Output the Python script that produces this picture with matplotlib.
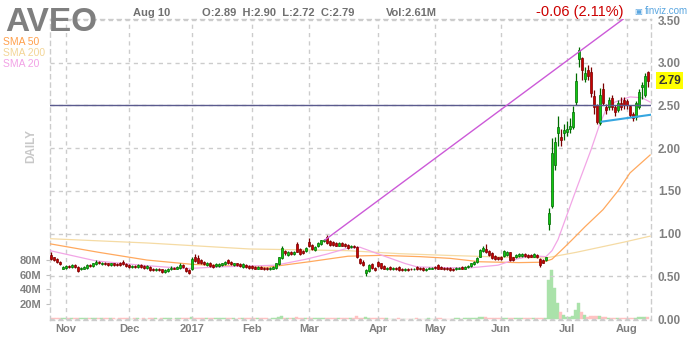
import numpy as np
import pandas as pd
import matplotlib
matplotlib.use('Agg')
import matplotlib.pyplot as plt
import matplotlib.transforms as mtransforms

plt.rcParams['font.family'] = ['Liberation Sans', 'DejaVu Sans']

#### DATA ####
ticker = 'AVEO'
holidays = ['2016-11-24', '2016-12-26', '2017-01-02', '2017-01-16', '2017-02-20',
            '2017-04-14', '2017-05-29', '2017-07-04']
dates = pd.bdate_range('2016-10-25', '2017-08-10', freq='C', holidays=holidays)
month_labels = ['Nov', 'Dec', '2017', 'Feb', 'Mar', 'Apr', 'May', 'Jun', 'Jul', 'Aug']

opens = [0.75, 0.72, 0.70, 0.67, 0.59, 0.60, 0.62, 0.61, 0.63, 0.61,
         0.58, 0.59, 0.60, 0.63, 0.62, 0.64, 0.67, 0.64, 0.66, 0.65,
         0.63, 0.65, 0.64, 0.66, 0.67, 0.64, 0.63, 0.61, 0.62, 0.61,
         0.63, 0.62, 0.60, 0.61, 0.59, 0.57, 0.59, 0.58, 0.55, 0.56,
         0.58, 0.60, 0.59, 0.60, 0.63, 0.60, 0.57, 0.58, 0.72, 0.71,
         0.69, 0.67, 0.63, 0.66, 0.63, 0.62, 0.62, 0.63, 0.64, 0.69,
         0.67, 0.63, 0.65, 0.64, 0.61, 0.63, 0.62, 0.62, 0.61, 0.59,
         0.61, 0.60, 0.60, 0.58, 0.59, 0.60, 0.64, 0.71, 0.80, 0.75,
         0.79, 0.76, 0.88, 0.82, 0.80, 0.80, 0.90, 0.87, 0.81, 0.85,
         0.88, 0.91, 0.96, 0.91, 0.90, 0.89, 0.86, 0.89, 0.88, 0.87,
         0.84, 0.86, 0.84, 0.70, 0.67, 0.54, 0.56, 0.64, 0.60, 0.67,
         0.65, 0.62, 0.58, 0.61, 0.58, 0.60, 0.61, 0.59, 0.57, 0.59,
         0.59, 0.58, 0.61, 0.60, 0.60, 0.57, 0.59, 0.59, 0.61, 0.63,
         0.61, 0.60, 0.60, 0.60, 0.59, 0.58, 0.59, 0.61, 0.59, 0.61,
         0.62, 0.64, 0.67, 0.73, 0.80, 0.82, 0.80, 0.77, 0.74, 0.72,
         0.73, 0.74, 0.75, 0.78, 0.72, 0.72, 0.74, 0.74, 0.76, 0.75,
         0.75, 0.73, 0.75, 0.70, 0.69, 0.69, 1.11, 1.32, 1.80, 2.18,
         2.13, 2.18, 2.19, 2.22, 2.25, 2.54, 3.04, 3.05, 2.81, 2.91,
         2.89, 2.61, 2.50, 2.29, 2.69, 2.48, 2.48, 2.59, 2.48, 2.45,
         2.53, 2.56, 2.55, 2.49, 2.40, 2.36, 2.48, 2.72, 2.62, 2.89]

closes = [0.70, 0.69, 0.67, 0.64, 0.61, 0.62, 0.61, 0.63, 0.61, 0.56,
          0.60, 0.61, 0.63, 0.62, 0.65, 0.67, 0.65, 0.66, 0.64, 0.63,
          0.65, 0.63, 0.63, 0.63, 0.64, 0.62, 0.61, 0.62, 0.61, 0.63,
          0.61, 0.60, 0.62, 0.57, 0.57, 0.59, 0.57, 0.55, 0.57, 0.59,
          0.60, 0.59, 0.61, 0.63, 0.61, 0.56, 0.54, 0.70, 0.68, 0.66,
          0.65, 0.64, 0.66, 0.62, 0.61, 0.64, 0.64, 0.65, 0.67, 0.65,
          0.64, 0.65, 0.63, 0.62, 0.64, 0.61, 0.60, 0.60, 0.59, 0.61,
          0.59, 0.58, 0.58, 0.60, 0.61, 0.65, 0.72, 0.83, 0.77, 0.79,
          0.76, 0.79, 0.79, 0.76, 0.77, 0.83, 0.85, 0.82, 0.84, 0.89,
          0.92, 0.93, 0.89, 0.87, 0.87, 0.86, 0.89, 0.86, 0.85, 0.83,
          0.86, 0.84, 0.72, 0.65, 0.63, 0.57, 0.63, 0.60, 0.57, 0.62,
          0.60, 0.59, 0.60, 0.58, 0.60, 0.58, 0.57, 0.57, 0.59, 0.57,
          0.58, 0.59, 0.58, 0.58, 0.57, 0.59, 0.60, 0.60, 0.60, 0.59,
          0.59, 0.58, 0.58, 0.57, 0.57, 0.60, 0.60, 0.59, 0.61, 0.62,
          0.65, 0.67, 0.71, 0.81, 0.83, 0.78, 0.75, 0.71, 0.70, 0.70,
          0.70, 0.80, 0.78, 0.69, 0.69, 0.75, 0.76, 0.76, 0.74, 0.72,
          0.73, 0.76, 0.72, 0.63, 0.66, 0.72, 1.24, 1.94, 2.07, 2.25,
          2.10, 2.21, 2.23, 2.26, 2.42, 2.79, 3.15, 2.91, 2.88, 2.84,
          2.65, 2.48, 2.31, 2.62, 2.53, 2.45, 2.56, 2.48, 2.42, 2.53,
          2.48, 2.50, 2.51, 2.39, 2.35, 2.53, 2.66, 2.74, 2.85, 2.79]

highs = [0.78, 0.73, 0.71, 0.68, 0.62, 0.63, 0.63, 0.64, 0.64, 0.62,
         0.61, 0.62, 0.64, 0.64, 0.66, 0.69, 0.68, 0.67, 0.67, 0.66,
         0.66, 0.66, 0.65, 0.67, 0.69, 0.65, 0.64, 0.63, 0.63, 0.64,
         0.64, 0.63, 0.63, 0.62, 0.60, 0.60, 0.60, 0.59, 0.58, 0.60,
         0.62, 0.61, 0.62, 0.65, 0.64, 0.61, 0.58, 0.72, 0.76, 0.75,
         0.70, 0.68, 0.67, 0.67, 0.64, 0.65, 0.66, 0.66, 0.68, 0.70,
         0.68, 0.66, 0.66, 0.65, 0.65, 0.64, 0.63, 0.63, 0.62, 0.62,
         0.62, 0.61, 0.61, 0.61, 0.62, 0.66, 0.73, 0.85, 0.81, 0.80,
         0.80, 0.80, 0.90, 0.83, 0.81, 0.84, 0.95, 0.88, 0.85, 0.90,
         0.93, 0.94, 0.98, 0.92, 0.91, 0.90, 0.90, 0.90, 0.89, 0.88,
         0.87, 0.87, 0.85, 0.71, 0.69, 0.59, 0.64, 0.66, 0.61, 0.68,
         0.66, 0.63, 0.61, 0.62, 0.61, 0.61, 0.62, 0.60, 0.60, 0.60,
         0.60, 0.60, 0.62, 0.61, 0.61, 0.60, 0.61, 0.61, 0.62, 0.64,
         0.62, 0.61, 0.61, 0.61, 0.60, 0.61, 0.61, 0.62, 0.62, 0.63,
         0.66, 0.68, 0.72, 0.82, 0.85, 0.88, 0.81, 0.78, 0.75, 0.73,
         0.74, 0.81, 0.80, 0.79, 0.73, 0.76, 0.77, 0.77, 0.77, 0.76,
         0.76, 0.77, 0.76, 0.71, 0.70, 0.73, 1.30, 2.12, 2.13, 2.38,
         2.22, 2.28, 2.32, 2.35, 2.49, 2.88, 3.18, 3.07, 2.95, 2.97,
         2.95, 2.68, 2.52, 2.70, 2.76, 2.52, 2.60, 2.62, 2.50, 2.56,
         2.60, 2.60, 2.58, 2.50, 2.42, 2.55, 2.69, 2.78, 2.88, 2.90]

lows = [0.69, 0.68, 0.66, 0.63, 0.58, 0.59, 0.60, 0.60, 0.60, 0.55,
        0.57, 0.58, 0.59, 0.61, 0.61, 0.63, 0.64, 0.63, 0.63, 0.62,
        0.62, 0.62, 0.62, 0.62, 0.63, 0.61, 0.60, 0.60, 0.60, 0.60,
        0.60, 0.59, 0.59, 0.56, 0.56, 0.56, 0.56, 0.54, 0.54, 0.55,
        0.57, 0.58, 0.58, 0.59, 0.60, 0.55, 0.53, 0.57, 0.67, 0.65,
        0.64, 0.63, 0.62, 0.61, 0.60, 0.61, 0.61, 0.62, 0.63, 0.64,
        0.63, 0.62, 0.62, 0.61, 0.60, 0.60, 0.59, 0.59, 0.58, 0.58,
        0.58, 0.57, 0.57, 0.57, 0.58, 0.59, 0.63, 0.70, 0.75, 0.74,
        0.75, 0.75, 0.78, 0.75, 0.76, 0.79, 0.84, 0.81, 0.80, 0.84,
        0.87, 0.90, 0.88, 0.86, 0.86, 0.85, 0.85, 0.85, 0.84, 0.82,
        0.83, 0.83, 0.71, 0.64, 0.62, 0.50, 0.55, 0.59, 0.56, 0.61,
        0.59, 0.58, 0.57, 0.57, 0.57, 0.57, 0.56, 0.56, 0.56, 0.56,
        0.57, 0.57, 0.57, 0.57, 0.56, 0.56, 0.58, 0.58, 0.59, 0.58,
        0.58, 0.57, 0.57, 0.56, 0.56, 0.57, 0.58, 0.58, 0.58, 0.60,
        0.61, 0.63, 0.66, 0.72, 0.79, 0.77, 0.74, 0.70, 0.69, 0.69,
        0.69, 0.73, 0.74, 0.68, 0.68, 0.71, 0.73, 0.73, 0.73, 0.71,
        0.72, 0.72, 0.71, 0.61, 0.65, 0.68, 1.04, 1.30, 1.74, 2.02,
        2.02, 2.10, 2.14, 2.18, 2.22, 2.50, 2.95, 2.80, 2.78, 2.80,
        2.60, 2.40, 2.28, 2.27, 2.50, 2.40, 2.45, 2.45, 2.38, 2.42,
        2.45, 2.46, 2.46, 2.37, 2.32, 2.33, 2.46, 2.57, 2.60, 2.72]

volumes_m = [2.0, 1.5, 1.2, 1.4, 1.6, 1.0, 0.8, 0.9, 1.0, 1.5,
             1.0, 0.9, 1.1, 0.8, 1.0, 1.3, 0.9, 0.8, 0.7, 0.8,
             0.9, 0.7, 0.6, 1.1, 0.9, 0.7, 0.8, 0.6, 0.7, 0.8,
             0.6, 0.7, 0.6, 0.9, 0.8, 0.7, 0.6, 1.0, 0.8, 0.7,
             0.8, 0.6, 0.7, 0.9, 0.8, 1.2, 1.4, 2.5, 1.8, 1.2,
             1.0, 0.9, 0.8, 1.0, 0.8, 0.7, 0.8, 0.7, 0.9, 1.0,
             0.8, 0.7, 0.6, 0.7, 0.8, 0.7, 0.8, 0.9, 0.7, 0.8,
             0.7, 0.8, 0.7, 0.6, 0.8, 1.5, 3.0, 4.0, 2.0, 1.5,
             1.2, 1.0, 2.2, 1.4, 1.1, 1.3, 2.0, 1.3, 1.0, 1.2,
             1.5, 1.3, 1.8, 1.2, 1.0, 0.9, 0.9, 0.8, 0.9, 0.8,
             0.8, 0.9, 3.5, 2.0, 1.5, 3.0, 2.0, 1.3, 1.1, 1.6,
             1.0, 0.8, 0.7, 0.6, 0.6, 0.6, 0.7, 0.6, 0.5, 0.6,
             0.5, 0.6, 0.7, 0.6, 0.6, 0.6, 0.7, 0.6, 0.6, 0.8,
             0.7, 0.6, 0.6, 0.6, 0.6, 0.7, 0.7, 0.6, 0.7, 0.8,
             1.0, 1.2, 1.5, 3.2, 2.5, 2.2, 1.6, 1.3, 1.1, 1.0,
             1.0, 1.8, 1.2, 1.4, 1.0, 1.1, 0.9, 0.9, 0.8, 0.8,
             0.8, 0.9, 0.9, 1.6, 1.2, 1.0, 53.0, 66.0, 42.0, 22.0,
             9.0, 6.0, 3.0, 3.0, 4.0, 12.0, 22.0, 9.0, 6.0, 3.0,
             4.0, 4.5, 4.0, 3.5, 3.0, 2.5, 2.0, 1.8, 1.6, 1.5,
             1.5, 1.2, 1.3, 1.5, 1.8, 2.0, 2.4, 2.2, 3.0, 2.61]

# moving averages (trading-day index, price)
sma200_idx = [-0.3, 32, 66, 99, 116, 132, 150, 165, 175, 183, 191, 199.7]
sma200_val = [0.94, 0.89, 0.82, 0.80, 0.765, 0.745, 0.725, 0.715, 0.78, 0.84, 0.90, 0.97]
sma50_idx = [-0.3, 16, 32, 47, 60, 72, 86, 99, 110, 123, 133, 143, 156, 164,
             167, 170, 173.5, 178, 184, 189, 193, 199.7]
sma50_val = [0.88, 0.78, 0.69, 0.64, 0.62, 0.605, 0.67, 0.735, 0.745, 0.73, 0.71, 0.67, 0.66, 0.665,
             0.70, 0.80, 0.92, 1.08, 1.28, 1.50, 1.71, 1.92]
sma20_idx = [-0.3, 15, 30, 45, 56, 66, 75, 85, 92, 99, 103, 110, 118, 122, 132, 140,
             149, 155, 160, 165, 167, 169, 175, 180, 183, 185, 188, 193, 197, 199.7]
sma20_val = [0.80, 0.68, 0.63, 0.59, 0.61, 0.62, 0.63, 0.70, 0.76, 0.83, 0.84, 0.75, 0.65, 0.61, 0.60, 0.60,
             0.63, 0.70, 0.74, 0.73, 0.80, 0.93, 1.51, 1.98, 2.29, 2.45, 2.54, 2.60, 2.59, 2.54]

# drawn trendlines
trend_up_idx = [91.3, 190.7]
trend_up_val = [0.925, 3.51]
trend_low_idx = [183.5, 199.7]
trend_low_val = [2.31, 2.39]
hline_level = 2.505

#### PLOT ####
W, H = 700, 340
fig = plt.figure(figsize=(W / 100, H / 100), dpi=100)
ax = fig.add_axes([50 / W, 20 / H, 601 / W, 301 / H])   # volume (left axis)
ax2 = ax.twinx()                                         # price (right axis)

x = np.arange(len(dates))
o, c, h, l = map(np.array, (opens, closes, highs, lows))
up = c >= o

grid_c = '#cccccc'
label_c = '#808080'

# volume
vcol = np.where(up, '#aae2aa', '#ffc2c2')
ax.bar(x, volumes_m, 1.0, color=vcol, edgecolor=vcol, lw=0.3, zorder=1)
ax.set_ylim(-1.36, 406.8)
ax.set_yticks([20, 40, 60, 80])
ax.set_yticklabels(['20M', '40M', '60M', '80M'])
ax.tick_params(axis='y', length=3, color='#c0c0c0', pad=3, labelsize=8, labelcolor=label_c)
for t in ax.get_yticklabels():
    t.set_fontweight('bold')

month_ticks = [i for i in range(1, len(dates)) if dates[i].month != dates[i - 1].month]
ax.set_xticks(month_ticks)
ax.set_xticklabels(month_labels, fontsize=8, fontweight='bold', color=label_c)
ax.tick_params(axis='x', length=0, pad=3)
ax.grid(axis='x', color=grid_c, linestyle=(0, (3, 3)), lw=1)
ax.set_xlim(-0.33, 200)
for s in ax.spines.values():
    s.set_color(grid_c)
    s.set_linestyle((0, (3, 3)))
    s.set_linewidth(1)

# price
ax2.set_ylim(-0.0117, 3.512)
ax2.set_yticks(np.arange(0, 3.51, 0.5))
ax2.set_yticklabels([f'{v:.2f}' for v in np.arange(0, 3.51, 0.5)])
ax2.tick_params(axis='y', length=0, pad=5, labelsize=8.5, labelcolor=label_c)
for t in ax2.get_yticklabels():
    t.set_fontweight('bold')
ax2.grid(axis='y', color=grid_c, linestyle=(0, (3, 3)), lw=1)
ax2.set_axisbelow(True)
for s in ax2.spines.values():
    s.set_visible(False)

ax2.plot(sma200_idx, sma200_val, color='#f5dba4', lw=0.9, zorder=2)
ax2.plot(sma50_idx, sma50_val, color='#ffa95e', lw=0.9, zorder=2)
ax2.plot(sma20_idx, sma20_val, color='#f2a6e6', lw=0.9, zorder=2)

ax2.vlines(x, l, h, colors=np.where(up, '#006a00', '#7a0000'), lw=0.9, zorder=3)
ax2.bar(x, np.maximum(np.abs(c - o), 0.01), 0.85, bottom=np.minimum(o, c),
        color=np.where(up, '#10c810', '#c80000'),
        edgecolor=np.where(up, '#006a00', '#7a0000'), lw=0.5, zorder=4)

ax2.axhline(hline_level, color='#5a5a8e', lw=1, zorder=5)
ax2.plot(trend_up_idx, trend_up_val, color='#cc5ad8', lw=1, zorder=5)
ax2.plot(trend_low_idx, trend_low_val, color='#36a6e0', lw=1.5, zorder=5)

# last price tag
tr = mtransforms.blended_transform_factory(ax2.transAxes, ax2.transData)
ax2.text(1.012, c[-1], f'{c[-1]:.2f}', transform=tr, ha='left', va='center',
         fontsize=8.5, fontweight='bold', color='#333333',
         bbox=dict(boxstyle='square,pad=0.2', fc='#ffff00', ec='none'))

# header
def ftext(px, py, s, **kw):
    fig.text(px / W, 1 - py / H, s, **kw)

ftext(5, 31, ticker, fontsize=24, fontweight='bold', color='#7f7f7f', va='baseline')
last = dates[-1]
ftext(133, 16, last.strftime('%b ') + str(last.day), fontsize=8, fontweight='bold',
      color='#707070', va='baseline')
ftext(202, 16, f'O:{o[-1]:.2f}  H:{h[-1]:.2f}  L:{l[-1]:.2f}  C:{c[-1]:.2f}',
      fontsize=8, fontweight='bold', color='#707070', va='baseline')
ftext(386, 16, f'Vol:{volumes_m[-1]:.2f}M', fontsize=8, fontweight='bold',
      color='#707070', va='baseline')
chg = c[-1] - c[-2]
ftext(536, 16, f'{chg:.2f} ({abs(chg) / c[-2] * 100:.2f}%)', fontsize=10.5,
      color='#cc0000', va='baseline')
ftext(634, 14, '\u25a3', fontsize=6, color='#5aa6e0', va='baseline')
ftext(645, 14, 'finviz.com', fontsize=7, color='#5aa6e0', va='baseline')

ftext(3, 42, 'SMA 50', fontsize=7.5, color='#ffa04c', va='center')
ftext(3, 53, 'SMA 200', fontsize=7.5, color='#f3d596', va='center')
ftext(3, 64, 'SMA 20', fontsize=7.5, color='#f2a2e6', va='center')
ftext(31, 146, 'DAILY', fontsize=8.5, fontweight='bold', color='#c8c8c8',
      rotation=90, ha='center', va='center')

fig.savefig('out.png', dpi=100)
